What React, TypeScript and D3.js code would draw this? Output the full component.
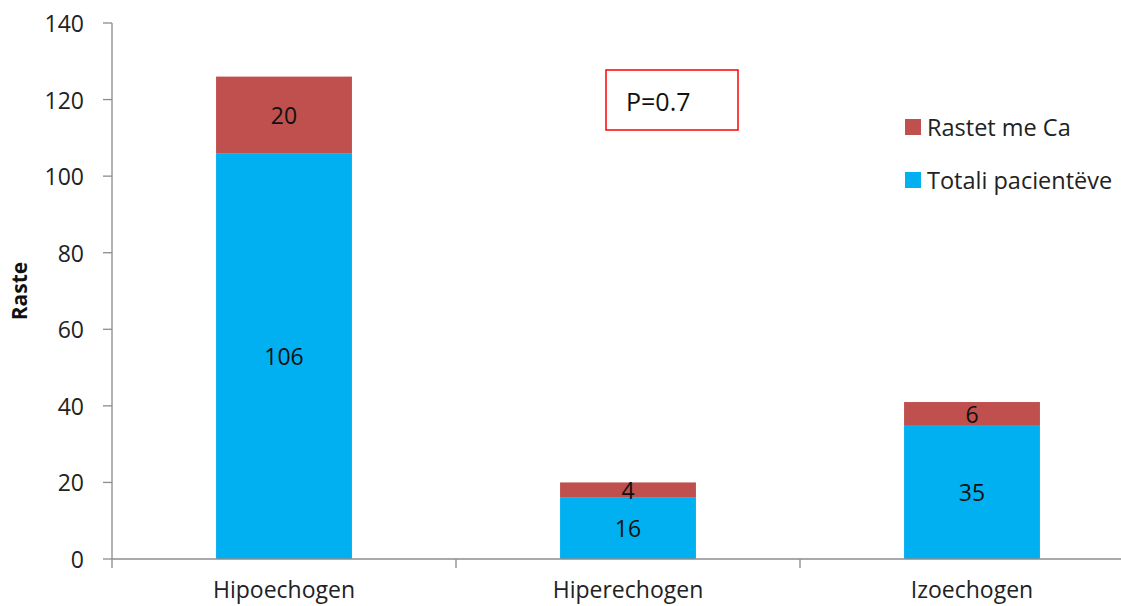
import React from "react";
import * as d3 from "d3";

const categories = ["Hipoechogen", "Hiperechogen", "Izoechogen"];
const totalPatients = [106, 16, 35];
const cancerCases = [20, 4, 6];
const yTicks = [0, 20, 40, 60, 80, 100, 120, 140];
const seriesNames = ["Rastet me Ca", "Totali pacientëve"];
const pValueText = "P=0.7";
const yTitle = "Raste";

const W = 1121;
const H = 606;
const left = 112;
const top = 23;
const bottom = 559;
const FONT = "'Open Sans', sans-serif";
const BLUE = "#00B0F0";
const RED = "#C0504D";
const AXIS = "#8c8c8c";

export default function App() {
  const x = d3.scaleBand<string>().domain(categories).range([left, left + 344 * 3]).paddingInner(0).paddingOuter(0);
  const y = d3.scaleLinear().domain([0, 140]).range([bottom, top]);
  const barW = x.bandwidth() * 0.395;

  const rows = categories.map((c, i) => ({ c, total: totalPatients[i], ca: cancerCases[i] }));

  return (
    <svg width={W} height={H} style={{ position: "absolute", left: 0, top: 0, background: "#fff" }} fontFamily={FONT}>
      {/* stacked bars with value labels */}
      {rows.map((r) => {
        const cx = (x(r.c) as number) + x.bandwidth() / 2;
        const yTop1 = y(r.total);
        const yTop2 = y(r.total + r.ca);
        return (
          <g key={r.c}>
            <rect x={cx - barW / 2} y={yTop1} width={barW} height={bottom - yTop1} fill={BLUE} />
            <rect x={cx - barW / 2} y={yTop2} width={barW} height={yTop1 - yTop2} fill={RED} />
            <text x={cx} y={(bottom + yTop1) / 2} textAnchor="middle" dominantBaseline="central" fontSize={23} fill="#111">
              {r.total}
            </text>
            <text x={cx} y={(yTop1 + yTop2) / 2} textAnchor="middle" dominantBaseline="central" fontSize={23} fill="#111">
              {r.ca}
            </text>
            <text x={cx} y={598} textAnchor="middle" fontSize={23} fill="#222">
              {r.c}
            </text>
          </g>
        );
      })}

      {/* y axis */}
      <line x1={left} x2={left} y1={top} y2={bottom} stroke={AXIS} strokeWidth={1.3} />
      {yTicks.map((t) => (
        <g key={t}>
          <line x1={left - 9} x2={left} y1={y(t)} y2={y(t)} stroke={AXIS} strokeWidth={1.3} />
          <text x={left - 28} y={y(t)} textAnchor="end" dominantBaseline="central" fontSize={23} fill="#222">
            {t}
          </text>
        </g>
      ))}

      {/* x axis */}
      <line x1={left} x2={W} y1={bottom} y2={bottom} stroke={AXIS} strokeWidth={1.3} />
      {categories.map((c) => (
        <line key={c} x1={x(c) as number} x2={x(c) as number} y1={bottom} y2={bottom + 9} stroke={AXIS} strokeWidth={1.3} />
      ))}

      {/* y title */}
      <text transform={`translate(27,291) rotate(-90)`} textAnchor="middle" fontSize={21} fontWeight="bold" fill="#111">
        {yTitle}
      </text>

      {/* p-value box */}
      <rect x={606} y={70} width={132} height={60} fill="#fff" stroke="#ff0000" strokeWidth={1.5} />
      <text x={626} y={101} dominantBaseline="central" fontSize={25} fill="#111">
        {pValueText}
      </text>

      {/* legend */}
      {seriesNames.map((s, i) => (
        <g key={s} transform={`translate(905,${127 + i * 53})`}>
          <rect x={0} y={-8} width={16} height={16} fill={i === 0 ? RED : BLUE} />
          <text x={22} y={0} dominantBaseline="central" fontSize={23.5} fill="#222">
            {s}
          </text>
        </g>
      ))}
    </svg>
  );
}
